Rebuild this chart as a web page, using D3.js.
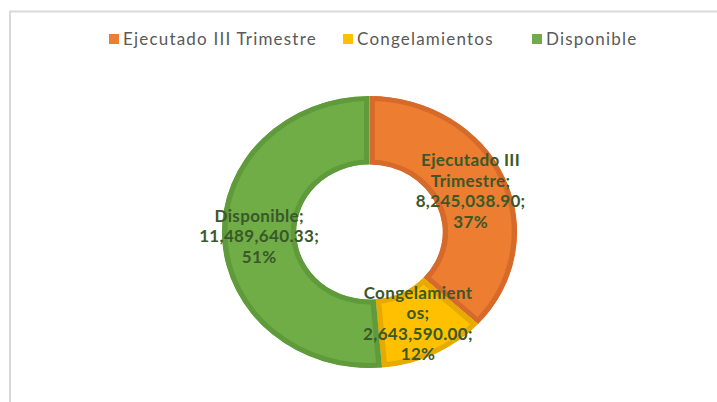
<!DOCTYPE html>
<html>
<head>
<meta charset="utf-8">
<script src="https://cdn.jsdelivr.net/npm/d3@7"></script>
<style>
  html, body { margin: 0; padding: 0; background: #ffffff; }
  svg { display: block; }
</style>
</head>
<body>
<svg id="chart" width="717" height="402"></svg>
<script>
// ---- Data ----
const categories = ["Ejecutado III Trimestre", "Congelamientos", "Disponible"];
const values = [8245038.90, 2643590.00, 11489640.33];
const labelNames = [["Ejecutado III", "Trimestre;"], ["Congelamient", "os;"], ["Disponible;"]];
const colors = ["#ED7D31", "#FFC000", "#70AD47"];
const borderColors = ["#D66A2B", "#E6AA00", "#5F9B3B"];

// ---- Layout ----
const W = 717, H = 402;
const cx = 369.5, cy = 232;
const outerR = 136, innerR = 67.5;
const xStretch = 1.085;

const svg = d3.select("#chart");

// frame
svg.append("rect")
  .attr("x", 10).attr("y", 11.5)
  .attr("width", W + 20).attr("height", H + 20)
  .attr("fill", "#ffffff")
  .attr("stroke", "#D9D9D9").attr("stroke-width", 2);

const total = d3.sum(values);
const pie = d3.pie().sort(null).value(d => d)(values);
const arc = d3.arc().innerRadius(innerR).outerRadius(outerR);

const g = svg.append("g").attr("transform", `translate(${cx},${cy}) scale(${xStretch},1)`);
const defs = svg.append("defs");

pie.forEach((p, i) => {
  const id = "clip" + i;
  defs.append("clipPath").attr("id", id).append("path").attr("d", arc(p));
  g.append("path")
    .attr("d", arc(p))
    .attr("fill", colors[i])
    .attr("stroke", borderColors[i])
    .attr("stroke-width", 10)
    .attr("clip-path", `url(#${id})`);
});

// labels
const fmt = d3.format(",.2f");
const lineH = 20.5;
pie.forEach((p, i) => {
  const [mx, my] = arc.centroid(p);
  const lines = labelNames[i].concat([fmt(values[i]) + ";", Math.round(values[i] / total * 100) + "%"]);
  const x = cx + mx * xStretch, y = cy + my;
  const t = svg.append("text")
    .attr("text-anchor", "middle")
    .attr("font-family", "Lato, 'DejaVu Sans', sans-serif")
    .attr("font-weight", "bold")
    .attr("font-size", 17)
    .attr("letter-spacing", 0.35)
    .attr("fill", "#3A5829");
  lines.forEach((l, k) => {
    t.append("tspan")
      .attr("x", x)
      .attr("y", y + (k - (lines.length - 1) / 2) * lineH)
      .attr("dy", "0.35em")
      .text(l);
  });
});

// legend
const legendX = [109, 343, 532];
const leg = svg.append("g");
categories.forEach((c, i) => {
  leg.append("rect")
    .attr("x", legendX[i]).attr("y", 34)
    .attr("width", 10).attr("height", 10)
    .attr("fill", colors[i]);
  leg.append("text")
    .attr("x", legendX[i] + 14).attr("y", 39.5)
    .attr("dy", "0.35em")
    .attr("font-family", "Lato, 'DejaVu Sans', sans-serif")
    .attr("font-size", 17)
    .attr("letter-spacing", 1.2)
    .attr("fill", "#595959")
    .text(c);
});
</script>
</body>
</html>
